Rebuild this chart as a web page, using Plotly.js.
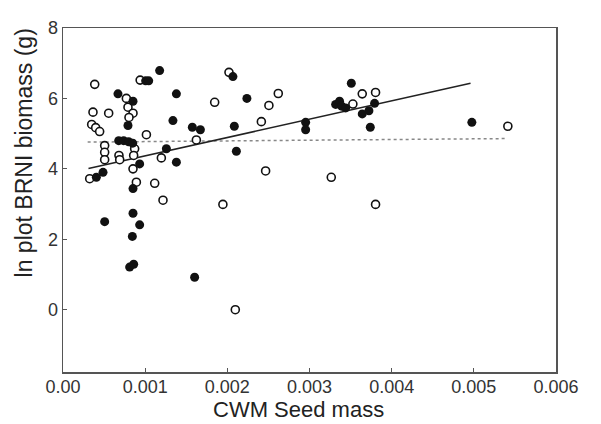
<!DOCTYPE html>
<html>
<head>
<meta charset="utf-8">
<script src="https://cdn.plot.ly/plotly-3.0.1.min.js"></script>
<style>html,body{margin:0;padding:0;background:#fff;}#chart{width:601px;height:424px;}</style>
</head>
<body>
<div id="chart"></div>
<script>
// Filled circles
const filledX = [0.000669,0.000852,0.000791,0.001006,0.001043,0.001176,0.00138,0.001338,
  0.000678,0.000738,0.000799,0.000848,0.001258,0.00138,0.000933,0.000487,0.000406,0.000852,
  0.000507,0.000852,0.000933,0.000844,0.000811,0.00086,0.001602,0.002068,0.001574,0.001672,
  0.002238,0.002085,0.00211,0.003509,0.003318,0.003366,0.003391,0.00344,0.003642,0.003723,
  0.003792,0.00374,0.002953,0.002953,0.004976];
const filledY = [6.13,5.92,5.23,6.50,6.50,6.79,6.13,5.37,
  4.80,4.80,4.77,4.73,4.57,4.19,4.14,3.90,3.76,3.44,
  2.50,2.74,2.41,2.08,1.21,1.29,0.92,6.62,5.18,5.11,
  6.00,5.21,4.50,6.43,5.83,5.92,5.78,5.73,5.56,5.65,
  5.86,5.18,5.32,5.11,5.32];
// Open circles
const openX = [0.000386,0.000365,0.000556,0.000349,0.000398,0.000446,0.000771,0.000791,0.000852,0.000803,
  0.000939,0.001015,0.000507,0.000507,0.000507,0.000681,0.00069,0.000872,0.00086,0.000852,
  0.000893,0.000325,0.001116,0.001197,0.001217,0.001623,0.001846,0.001946,0.00202,0.002097,
  0.002414,0.002466,0.002506,0.00262,0.003265,0.003528,0.003642,0.003804,0.003804,0.005414];
const openY = [6.40,5.61,5.58,5.26,5.17,5.06,6.00,5.75,5.58,5.46,
  6.52,4.97,4.66,4.47,4.26,4.38,4.26,4.57,4.38,4.00,
  3.62,3.72,3.59,4.31,3.11,4.82,5.89,2.99,6.74,0.00,
  5.34,3.94,5.80,6.14,3.76,5.84,6.13,6.17,2.99,5.21];
// Fitted lines
const solidLineX = [0.00031, 0.00496];
const solidLineY = [4.01, 6.43];
const dottedLineX = [0.0003, 0.0054];
const dottedLineY = [4.76, 4.86];
// Tick labels and titles
const xTickVals = [0,0.001,0.002,0.003,0.004,0.005,0.006];
const xTickText = ["0.00","0.001","0.002","0.003","0.004","0.005","0.006"];
const yTickVals = [0,2,4,6,8];
const xTitle = 'CWM Seed mass';
const yTitle = 'ln plot BRNI biomass (g)';

const traces = [
  {x: dottedLineX, y: dottedLineY, mode:'lines', line:{color:'#888', width:1.5, dash:'dot'}, hoverinfo:'skip'},
  {x: solidLineX, y: solidLineY, mode:'lines', line:{color:'#222', width:1.5}, hoverinfo:'skip'},
  {x: openX, y: openY, mode:'markers', marker:{symbol:'circle', size:8, color:'#fff', line:{color:'#111', width:1.6}}},
  {x: filledX, y: filledY, mode:'markers', marker:{symbol:'circle', size:9, color:'#111', line:{width:0}}}
];
const layout = {
  width:601, height:424,
  margin:{l:63, r:45, t:28, b:52},
  showlegend:false,
  paper_bgcolor:'#fff', plot_bgcolor:'#fff',
  font:{family:'"Liberation Sans", Arial, sans-serif', color:'#333'},
  xaxis:{range:[0,0.006], tickvals:xTickVals, ticktext:xTickText, ticks:'inside', ticklen:4, tickcolor:'#555',
    showgrid:false, zeroline:false, showline:true, mirror:true, linecolor:'#555', linewidth:1.5,
    tickfont:{size:18, color:'#333'}, ticklabelstandoff:-2},
  yaxis:{range:[-1.77,8], tickvals:yTickVals, ticks:'inside', ticklen:4, tickcolor:'#555',
    showgrid:false, zeroline:false, showline:true, mirror:true, linecolor:'#555', linewidth:1.5,
    tickfont:{size:18, color:'#333'}},
  annotations:[
    {text:xTitle, xref:'paper', yref:'paper', x:0.478, y:-0.108, xanchor:'center', yanchor:'middle',
     showarrow:false, font:{size:22, color:'#222'}},
    {text:yTitle, xref:'paper', yref:'paper', x:-0.08, y:0.637, xanchor:'center', yanchor:'middle',
     textangle:-90, showarrow:false, font:{size:23, color:'#222'}}
  ]
};
Plotly.newPlot('chart', traces, layout, {displayModeBar:false, staticPlot:true});
</script>
</body>
</html>
